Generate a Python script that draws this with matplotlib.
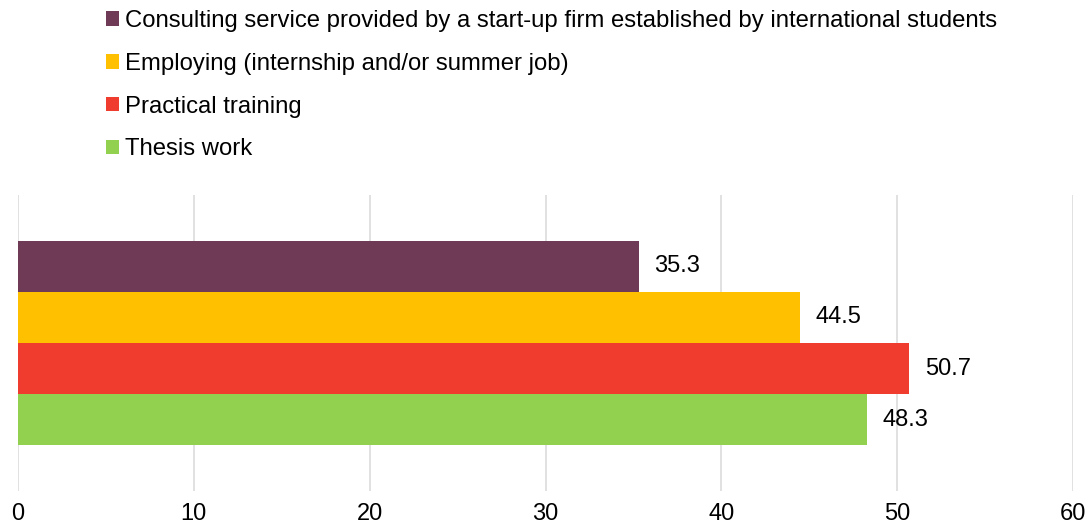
import matplotlib.pyplot as plt
from matplotlib.patches import Patch

categories = [
    'Consulting service provided by a start-up firm established by international students',
    'Employing (internship and/or summer job)',
    'Practical training',
    'Thesis work',
]
values = [35.3, 44.5, 50.7, 48.3]
colors = ['#6F3A56', '#FFC000', '#F03C2E', '#92D050']
xticks = [0, 10, 20, 30, 40, 50, 60]

plt.rcParams['font.family'] = ['Liberation Sans', 'DejaVu Sans']
plt.rcParams['font.size'] = 17

W, H = 1092, 532
fig = plt.figure(figsize=(W / 100, H / 100), dpi=100)
ax = fig.add_axes([18 / W, 41 / H, (1073 - 18) / W, (491 - 195) / H])

pos = list(range(len(values)))
ax.barh(pos, values, height=1.0, color=colors, zorder=3)
for p, v in zip(pos, values):
    ax.annotate(f'{v}', (v, p), xytext=(11, 0), textcoords='offset points',
                va='center', ha='left', color='#000000')

ax.set_xlim(0, 60)
ax.set_ylim(3.5 + 0.9, -0.5 - 0.9)
ax.set_xticks(xticks)
ax.set_yticks([])
ax.tick_params(axis='x', length=0, pad=9, colors='#000000')
ax.grid(axis='x', color='#D9D9D9', linewidth=1.1, zorder=0)
for s in ax.spines.values():
    s.set_visible(False)

handles = [Patch(facecolor=c, edgecolor='none') for c in colors]
fig.legend(handles, categories, loc='upper left',
           bbox_to_anchor=(106 / W, 1 - 10 / H), frameon=False,
           prop={'size': 17.2},
           borderpad=0, borderaxespad=0, handlelength=0.55, handleheight=0.55,
           handletextpad=0.25, labelspacing=0.87)

fig.savefig('out.png', dpi=100)
